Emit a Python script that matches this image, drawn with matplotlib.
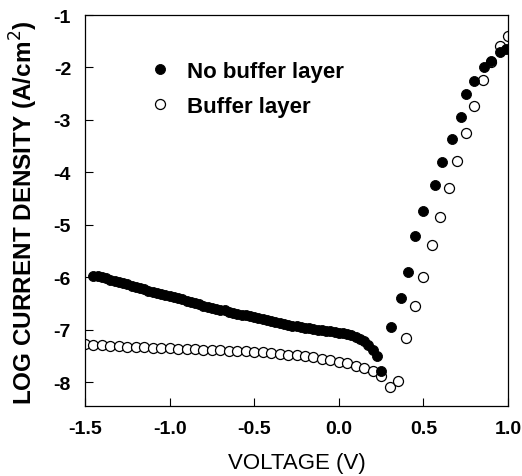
import numpy as np
import matplotlib
matplotlib.use("Agg")
import matplotlib.pyplot as plt

plt.rcParams['font.family'] = ['Liberation Sans', 'DejaVu Sans']

# No buffer layer (filled circles)
v_nobuf = [-1.45, -1.425, -1.4, -1.375, -1.35, -1.325, -1.3, -1.275, -1.25, -1.225,
           -1.2, -1.175, -1.15, -1.125, -1.1, -1.075, -1.05, -1.025, -1.0, -0.975,
           -0.95, -0.925, -0.9, -0.875, -0.85, -0.825, -0.8, -0.775, -0.75, -0.725,
           -0.7, -0.675, -0.65, -0.625, -0.6, -0.575, -0.55, -0.525, -0.5, -0.475,
           -0.45, -0.425, -0.4, -0.375, -0.35, -0.325, -0.3, -0.275, -0.25, -0.225,
           -0.2, -0.175, -0.15, -0.125, -0.1, -0.075, -0.05, -0.025, 0.0, 0.025,
           0.05, 0.075, 0.1, 0.125, 0.15, 0.175, 0.2, 0.225, 0.25,
           0.31, 0.37, 0.41, 0.45, 0.50, 0.57, 0.61, 0.67, 0.72, 0.75,
           0.80, 0.86, 0.90, 0.95, 0.99]
j_nobuf = [-5.97, -5.98, -6.00, -6.02, -6.04, -6.07, -6.09, -6.11, -6.13, -6.16,
           -6.18, -6.20, -6.23, -6.25, -6.27, -6.29, -6.32, -6.34, -6.36, -6.38,
           -6.40, -6.42, -6.45, -6.47, -6.49, -6.51, -6.54, -6.56, -6.58, -6.60,
           -6.62, -6.63, -6.65, -6.67, -6.69, -6.71, -6.72, -6.74, -6.76, -6.78,
           -6.80, -6.82, -6.83, -6.85, -6.87, -6.89, -6.90, -6.92, -6.93, -6.95,
           -6.96, -6.97, -6.99, -7.00, -7.01, -7.02, -7.03, -7.04, -7.05, -7.06,
           -7.08, -7.10, -7.13, -7.17, -7.21, -7.28, -7.38, -7.50, -7.79,
           -6.94, -6.40, -5.89, -5.22, -4.74, -4.23, -3.81, -3.37, -2.95, -2.51,
           -2.25, -2.00, -1.87, -1.71, -1.65]

# Buffer layer (open circles)
v_buf = [-1.5, -1.45, -1.4, -1.35, -1.3, -1.25, -1.2, -1.15, -1.1, -1.05,
         -1.0, -0.95, -0.9, -0.85, -0.8, -0.75, -0.7, -0.65, -0.6, -0.55,
         -0.5, -0.45, -0.4, -0.35, -0.3, -0.25, -0.2, -0.15, -0.1, -0.05,
         0.0, 0.05, 0.1, 0.15, 0.2, 0.25, 0.3, 0.35, 0.4, 0.45,
         0.5, 0.55, 0.6, 0.65, 0.7, 0.75, 0.8, 0.85, 0.9, 0.95, 1.0]
j_buf = [-7.27, -7.28, -7.29, -7.30, -7.31, -7.32, -7.32, -7.33, -7.34, -7.35,
         -7.35, -7.36, -7.37, -7.37, -7.38, -7.38, -7.39, -7.40, -7.40, -7.41,
         -7.42, -7.43, -7.44, -7.45, -7.47, -7.48, -7.50, -7.52, -7.55, -7.58,
         -7.61, -7.64, -7.68, -7.72, -7.78, -7.88, -8.08, -7.97, -7.15, -6.55,
         -6.00, -5.38, -4.85, -4.30, -3.78, -3.25, -2.74, -2.24, -1.90, -1.60, -1.40]

x_ticks = [-1.5, -1.0, -0.5, 0.0, 0.5, 1.0]
y_ticks = [-8, -7, -6, -5, -4, -3, -2, -1]

fig = plt.figure(figsize=(5.22, 4.77), dpi=100)
ax = fig.add_axes([85/522, 1-407/477, 423/522, 391/477])

ax.plot(v_nobuf, j_nobuf, 'o', color='black', markersize=7.2, markeredgewidth=0.6,
        label='No buffer layer', zorder=3)
ax.plot(v_buf, j_buf, 'o', markerfacecolor='white', markeredgecolor='black',
        markersize=7.2, markeredgewidth=0.9, label='Buffer layer', zorder=2)

ax.set_xlim(-1.5, 1.0)
ax.set_ylim(-8.45, -1.0)
ax.set_xticks(x_ticks)
ax.set_xticklabels([f"{t:.1f}" for t in x_ticks])
ax.set_yticks(y_ticks)
ax.set_yticklabels([f"{t:d}" for t in y_ticks])

ax.tick_params(direction='in', length=6, width=0.8, top=False, right=False,
               labelsize=14)
ax.tick_params(axis='x', pad=10)
ax.tick_params(axis='y', pad=10)
for lab in ax.get_xticklabels() + ax.get_yticklabels():
    lab.set_fontweight('bold')
for sp in ax.spines.values():
    sp.set_linewidth(0.9)

ax.set_xlabel('VOLTAGE (V)', fontsize=16)
ax.set_ylabel('LOG CURRENT DENSITY (A/cm$^2$)', fontsize=17.5, fontweight='bold')
ax.xaxis.set_label_coords(0.5, -0.118)
ax.yaxis.set_label_coords(-0.106, 0.496)

leg = ax.legend(loc='upper left', bbox_to_anchor=(0.151, 0.882), frameon=False,
                prop={'size': 16, 'weight': 'bold'}, handlelength=1.0,
                handletextpad=0.72, borderpad=0, borderaxespad=0,
                labelspacing=0.62, numpoints=1)

fig.savefig('out.png', dpi=100)
